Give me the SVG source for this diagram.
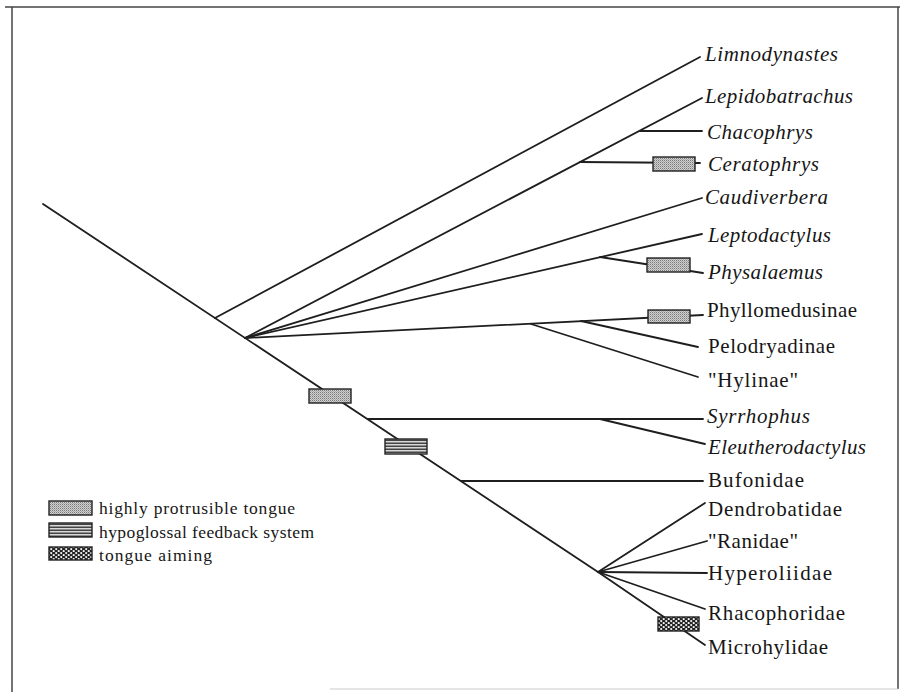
<svg xmlns="http://www.w3.org/2000/svg" width="906" height="692" viewBox="0 0 906 692">
<style>
.ln{stroke:#1e1e1e;stroke-width:1.8;fill:none;stroke-linecap:round}
.lb{font-family:"Liberation Serif",serif;font-size:21px;fill:#161616}
.it{font-style:italic}
.lg{font-family:"Liberation Serif",serif;font-size:17.5px;fill:#161616}
.box{stroke:#222;stroke-width:1.4}
.frame{stroke:#444;stroke-width:1.5;fill:none}
</style>
<defs>
<pattern id="stip" width="2" height="2" patternUnits="userSpaceOnUse">
<rect width="2" height="2" fill="#cfcfcf"/>
<rect width="1" height="1" fill="#7a7a7a"/>
<rect x="1" y="1" width="1" height="1" fill="#a8a8a8"/>
</pattern>
<pattern id="strp" width="4" height="3" patternUnits="userSpaceOnUse">
<rect width="4" height="3" fill="#d8d8d8"/>
<rect y="1.5" width="4" height="1.5" fill="#444"/>
</pattern>
<pattern id="aim" width="5" height="4" patternUnits="userSpaceOnUse">
<rect width="5" height="4" fill="#222"/>
<circle cx="1.2" cy="1.1" r="1.1" fill="#f4f4f4"/>
<circle cx="3.7" cy="3" r="1.1" fill="#f4f4f4"/>
</pattern>
</defs>
<rect width="906" height="692" fill="#fff"/>
<g id="frame">
<line class="frame" x1="5" y1="7" x2="900" y2="7"/>
<line class="frame" x1="12" y1="7" x2="12" y2="692"/>
<line class="frame" x1="898" y1="7" x2="898" y2="689"/>
<line x1="330" y1="689" x2="898" y2="689" stroke="#ccc" stroke-width="1.2"/>
</g>
<g id="connectors">
<line class="ln" x1="43" y1="204" x2="598" y2="572"/>
<line class="ln" x1="215" y1="318" x2="700" y2="57"/>
<line class="ln" x1="245" y1="338" x2="702" y2="98"/>
<line class="ln" x1="640" y1="131" x2="702" y2="131"/>
<line class="ln" x1="580" y1="162" x2="700" y2="163"/>
<line class="ln" x1="245" y1="338" x2="702" y2="198"/>
<line class="ln" x1="245" y1="338" x2="702" y2="234"/>
<line class="ln" x1="600" y1="257" x2="703" y2="273"/>
<line class="ln" x1="245" y1="338" x2="703" y2="315"/>
<line class="ln" x1="531" y1="324" x2="698" y2="377"/>
<line class="ln" x1="581" y1="321" x2="698" y2="347"/>
<line class="ln" x1="368" y1="419" x2="703" y2="419"/>
<line class="ln" x1="600" y1="419" x2="705" y2="444"/>
<line class="ln" x1="461" y1="481" x2="703" y2="481"/>
<line class="ln" x1="598" y1="572" x2="705" y2="503"/>
<line class="ln" x1="598" y1="572" x2="707" y2="541"/>
<line class="ln" x1="598" y1="572" x2="707" y2="573"/>
<line class="ln" x1="598" y1="572" x2="705" y2="609"/>
<line class="ln" x1="598" y1="572" x2="705" y2="645"/>
</g>
<g id="characters">
<rect class="box" x="309" y="389" width="42" height="14" fill="url(#stip)"/>
<rect class="box" x="385" y="439" width="42" height="15" fill="url(#strp)"/>
<rect class="box" x="653" y="157" width="42" height="14" fill="url(#stip)"/>
<rect class="box" x="647" y="258" width="43" height="14" fill="url(#stip)"/>
<rect class="box" x="648" y="310" width="42" height="13" fill="url(#stip)"/>
<rect class="box" x="658" y="617" width="41" height="14" fill="url(#aim)"/>
</g>
<g id="taxa">
<g id="n-limnodynastes"><text class="lb it" x="705" y="61" textLength="133" lengthAdjust="spacing">Limnodynastes</text></g>
<g id="n-lepidobatrachus"><text class="lb it" x="705" y="103" textLength="148" lengthAdjust="spacing">Lepidobatrachus</text></g>
<g id="n-chacophrys"><text class="lb it" x="707" y="139" textLength="106" lengthAdjust="spacing">Chacophrys</text></g>
<g id="n-ceratophrys"><text class="lb it" x="708" y="171" textLength="111" lengthAdjust="spacing">Ceratophrys</text></g>
<g id="n-caudiverbera"><text class="lb it" x="705" y="204" textLength="123" lengthAdjust="spacing">Caudiverbera</text></g>
<g id="n-leptodactylus"><text class="lb it" x="708" y="242" textLength="123" lengthAdjust="spacing">Leptodactylus</text></g>
<g id="n-physalaemus"><text class="lb it" x="708" y="279" textLength="115" lengthAdjust="spacing">Physalaemus</text></g>
<g id="n-phyllomedusinae"><text class="lb" x="707" y="317" textLength="150" lengthAdjust="spacing">Phyllomedusinae</text></g>
<g id="n-pelodryadinae"><text class="lb" x="708" y="353" textLength="127" lengthAdjust="spacing">Pelodryadinae</text></g>
<g id="n-hylinae"><text class="lb" x="708" y="387" textLength="90" lengthAdjust="spacing">"Hylinae"</text></g>
<g id="n-syrrhophus"><text class="lb it" x="707" y="423" textLength="103" lengthAdjust="spacing">Syrrhophus</text></g>
<g id="n-eleutherodactylus"><text class="lb it" x="708" y="454" textLength="158" lengthAdjust="spacing">Eleutherodactylus</text></g>
<g id="n-bufonidae"><text class="lb" x="708" y="487" textLength="96" lengthAdjust="spacing">Bufonidae</text></g>
<g id="n-dendrobatidae"><text class="lb" x="708" y="516" textLength="134" lengthAdjust="spacing">Dendrobatidae</text></g>
<g id="n-ranidae"><text class="lb" x="708" y="548" textLength="90" lengthAdjust="spacing">"Ranidae"</text></g>
<g id="n-hyperoliidae"><text class="lb" x="708" y="580" textLength="124" lengthAdjust="spacing">Hyperoliidae</text></g>
<g id="n-rhacophoridae"><text class="lb" x="708" y="620" textLength="137" lengthAdjust="spacing">Rhacophoridae</text></g>
<g id="n-microhylidae"><text class="lb" x="708" y="654" textLength="120" lengthAdjust="spacing">Microhylidae</text></g>
</g>
<g id="legend">
<rect class="box" x="49" y="501" width="43" height="14" fill="url(#stip)"/>
<text class="lg" x="99" y="514" textLength="196" lengthAdjust="spacing">highly protrusible tongue</text>
<rect class="box" x="49" y="523" width="43" height="14" fill="url(#strp)"/>
<text class="lg" x="99" y="538" textLength="215" lengthAdjust="spacing">hypoglossal feedback system</text>
<rect class="box" x="49" y="547" width="43" height="13" fill="url(#aim)"/>
<text class="lg" x="99" y="561" textLength="113" lengthAdjust="spacing">tongue aiming</text>
</g>
</svg>
